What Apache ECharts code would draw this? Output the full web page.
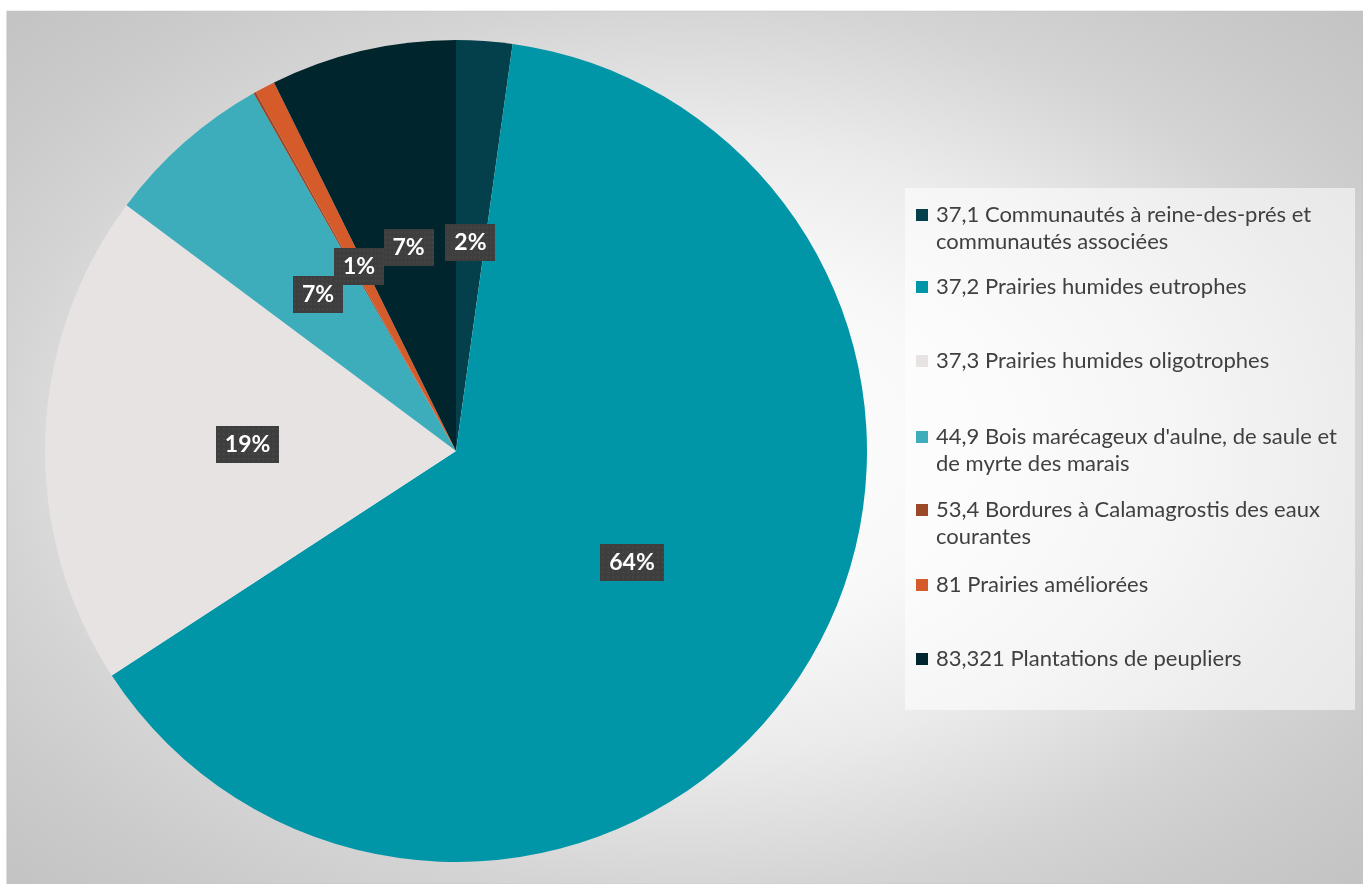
<!DOCTYPE html>
<html>
<head>
<meta charset="utf-8">
<script src="https://cdn.jsdelivr.net/npm/echarts@6/dist/echarts.min.js"></script>
<style>
  html, body { margin: 0; padding: 0; background: #fff; }
  #chart { width: 1363px; height: 884px; }
</style>
</head>
<body>
<div id="chart"></div>
<script>
  // habitats (codes CORINE) et part de chaque type
  const categories = [
    '37,1 Communautés à reine-des-prés et communautés associées',
    '37,2 Prairies humides eutrophes',
    '37,3 Prairies humides oligotrophes',
    "44,9 Bois marécageux d'aulne, de saule et de myrte des marais",
    '53,4 Bordures à Calamagrostis des eaux courantes',
    '81 Prairies améliorées',
    '83,321 Plantations de peupliers'
  ]
  const values = [2.2, 63.6, 19.4, 6.6, 0.1, 0.8, 7.3]
  // texte de la légende avec les retours à la ligne du modèle
  const legendTexts = [
    '37,1 Communautés à reine-des-prés et\ncommunautés associées',
    '37,2 Prairies humides eutrophes',
    '37,3 Prairies humides oligotrophes',
    "44,9 Bois marécageux d'aulne, de saule et\nde myrte des marais",
    '53,4 Bordures à Calamagrostis des eaux\ncourantes',
    '81 Prairies améliorées',
    '83,321 Plantations de peupliers'
  ]

  const colors = ['#04404b', '#0096a8', '#e8e3e3', '#3eadbb', '#9a4828', '#d65b2b', '#00252c']

  // motif pointillé des étiquettes
  const pattern = document.createElement('canvas')
  pattern.width = 64
  pattern.height = 37
  let pctx = pattern.getContext('2d')
  pctx.fillStyle = '#3e3e3e'
  pctx.fillRect(0, 0, 64, 37)
  pctx.fillStyle = '#474747'
  for (let y = 2; y < 37; y += 5) {
    for (let x = 2; x < 64; x += 5) {
      pctx.fillRect(x, y, 2, 2)
    }
  }

  // centre (y) de la première ligne de chaque entrée de légende
  const legendY = [215, 287, 361, 437, 510, 585, 659]

  let legends = categories.map((name, i) => {
    let twoLines = legendTexts[i].indexOf('\n') >= 0
    return {
      data: [name],
      left: 916,
      top: legendY[i] - (twoLines ? 40.5 : 13.5),
      orient: 'vertical',
      padding: 0,
      icon: 'rect',
      itemWidth: 12,
      itemHeight: 12,
      selectedMode: false,
      // ligne vide en tête : le carré reste en face de la première ligne
      formatter: () => (twoLines ? '\n' : '') + legendTexts[i],
      textStyle: {
        fontFamily: 'Lato',
        fontSize: 22,
        color: '#404040',
        lineHeight: 27,
        padding: [0, 0, 0, 3]
      }
    }
  })

  let myChart = echarts.init(document.getElementById('chart'))
  myChart.setOption({
    animation: false,
    color: colors,
    graphic: [
      {
        // fond dégradé de la zone du graphique
        type: 'rect',
        x: 7,
        y: 11,
        scaleX: 1.55,
        z: -10,
        shape: { x: 0, y: 0, width: 874.8, height: 873 },
        style: {
          fill: {
            type: 'radial',
            x: 437.4,
            y: 436,
            r: 618,
            global: true,
            colorStops: [
              { offset: 0, color: '#ffffff' },
              { offset: 0.3, color: '#f8f8f8' },
              { offset: 0.5, color: '#ebebeb' },
              { offset: 0.72, color: '#d4d4d4' },
              { offset: 0.85, color: '#cbcbcb' },
              { offset: 1, color: '#c3c3c3' }
            ]
          },
          stroke: '#c2c2c2',
          lineWidth: 0.7,
          strokeNoScale: true
        }
      },
      {
        // cadre de la légende
        type: 'rect',
        z: -5,
        shape: { x: 905, y: 188, width: 450, height: 522 },
        style: { fill: 'rgba(255,255,255,0.55)' }
      }
    ],
    legend: legends,
    series: [{
      type: 'pie',
      center: [456, 451],
      radius: 411,
      startAngle: 90,
      clockwise: true,
      avoidLabelOverlap: false,
      labelLayout: { hideOverlap: false },
      emphasis: { disabled: true },
      itemStyle: { borderWidth: 0 },
      label: {
        show: true,
        position: 'inside',
        formatter: (p) => Math.round(p.percent) + '%',
        fontFamily: 'Lato',
        fontWeight: 'bold',
        fontSize: 23,
        lineHeight: 25,
        color: '#fff',
        backgroundColor: { image: pattern },
        padding: [6, 9, 6, 9],
        shadowColor: 'rgba(0,0,0,0.5)',
        shadowBlur: 5,
        shadowOffsetX: 2,
        shadowOffsetY: 3
      },
      labelLine: { show: false },
      data: categories.map((name, i) => ({
        name: name,
        value: values[i],
        label: i === 4 ? { show: false } : undefined
      }))
    }]
  })
</script>
</body>
</html>
